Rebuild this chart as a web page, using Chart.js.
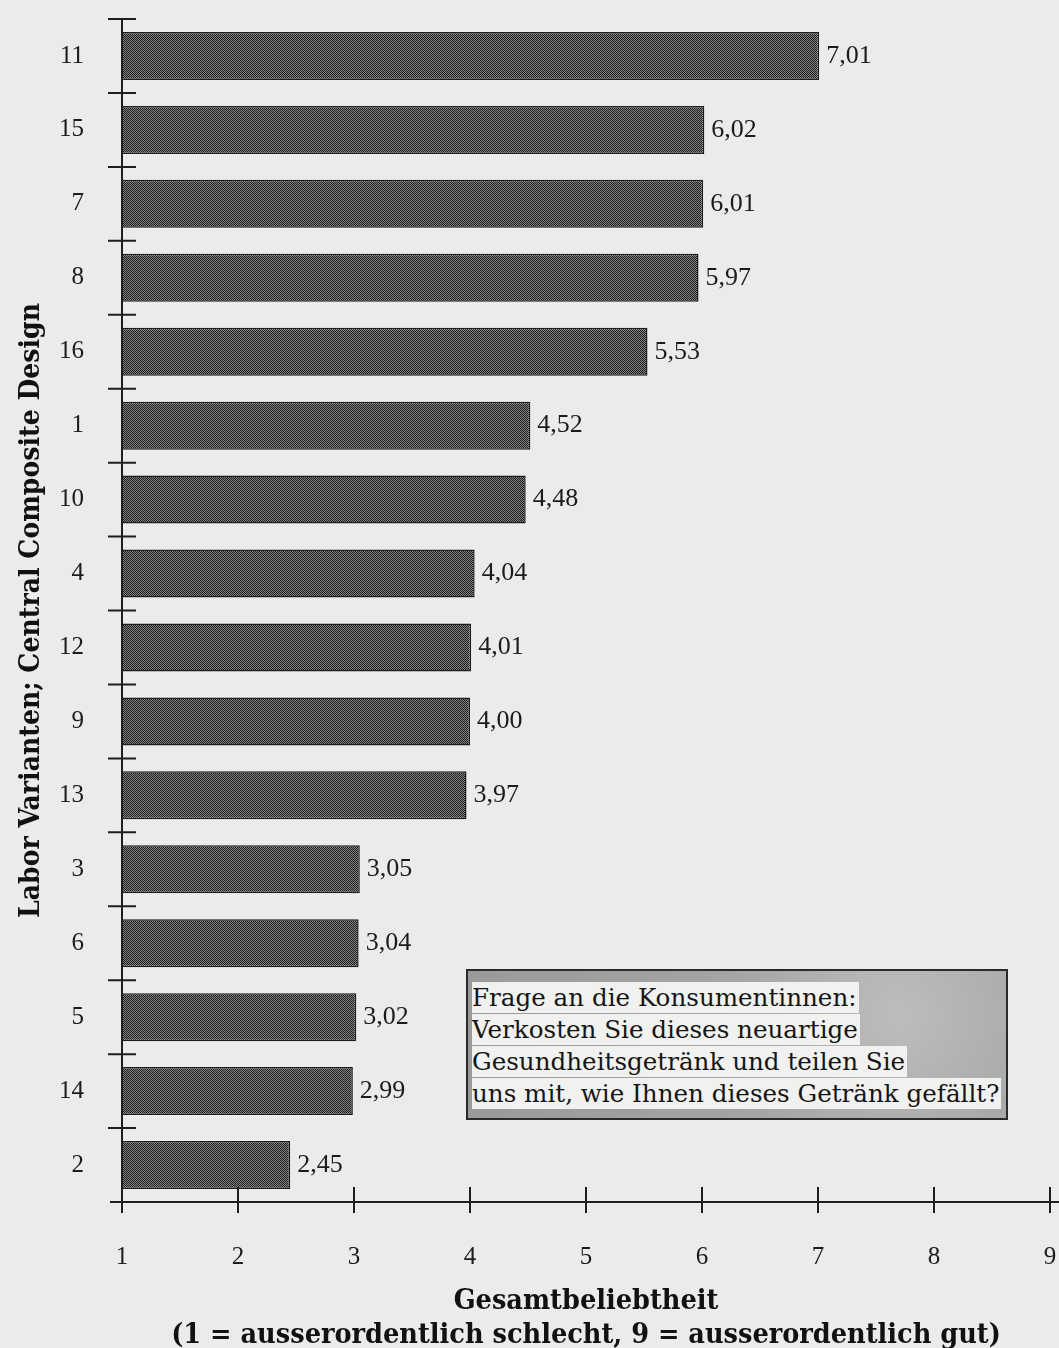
<!DOCTYPE html>
<html lang="de">
<head>
<meta charset="utf-8">
<title>Gesamtbeliebtheit der Labor-Varianten</title>
<script src="https://cdn.jsdelivr.net/npm/chart.js@4.4.1/dist/chart.umd.min.js"></script>
<style>
  html, body { margin: 0; padding: 0; background: #ecebe9; }
  #wrap { position: relative; width: 1059px; height: 1348px; overflow: hidden; }
  #chart { position: absolute; left: 0; top: 0; }
  /* Kasten mit der Frage an die Konsumentinnen */
  #frage {
    position: absolute; left: 466px; top: 969px; width: 542px; height: 151px;
    box-sizing: border-box; border: 2px solid #2a2a2a;
    background: #a6a6a6;
    background-image: radial-gradient(circle at 80% 30%, #bdbdbd 0, #a4a4a4 40%, #9a9a9a 100%);
    padding: 11px 0 0 4px;
  }
  #frage span {
    display: table; background: #f1f1ef; color: #151515;
    font: 24.6px "DejaVu Serif", "Liberation Serif", serif;
    line-height: 31px; margin-bottom: 1px; padding-right: 2px; white-space: nowrap;
  }
</style>
</head>
<body>
<div id="wrap">
  <canvas id="chart" width="1059" height="1348"></canvas>
  <div id="frage">
    <span>Frage an die Konsumentinnen:</span>
    <span>Verkosten Sie dieses neuartige</span>
    <span>Gesundheitsgetränk und teilen Sie</span>
    <span>uns mit, wie Ihnen dieses Getränk gefällt?</span>
  </div>
</div>
<script>
// ==================== Daten ====================

/** Labor-Varianten (Central Composite Design), sortiert nach Beliebtheit */
const varianten = ['11', '15', '7', '8', '16', '1', '10', '4', '12', '9', '13', '3', '6', '5', '14', '2'];

/** Mittlere Gesamtbeliebtheit je Variante */
const beliebtheit = [7.01, 6.02, 6.01, 5.97, 5.53, 4.52, 4.48, 4.04, 4.01, 4.00, 3.97, 3.05, 3.04, 3.02, 2.99, 2.45];

/** Skala 1..9 */
const skalaWerte = [1, 2, 3, 4, 5, 6, 7, 8, 9];

const xTitel = ['Gesamtbeliebtheit', '(1 = ausserordentlich schlecht, 9 = ausserordentlich gut)'];
const yTitel = 'Labor Varianten; Central Composite Design';

const SERIF = '"Liberation Serif", "DejaVu Serif", serif';
const TITEL_SERIF = '"DejaVu Serif Condensed", "Liberation Serif", serif';
const TINTE = '#1b1b1b';

// ==================== Hilfen ====================

/** Gerastertes Grau wie im Druck (Schachbrett aus dunklen und hellen Punkten) */
function rasterMuster() {
  const c = document.createElement('canvas');
  c.width = 2;
  c.height = 2;
  const g = c.getContext('2d');
  g.fillStyle = '#828282';
  g.fillRect(0, 0, 2, 2);
  g.fillStyle = '#1e1e1e';
  g.fillRect(0, 0, 1, 1);
  g.fillRect(1, 1, 1, 1);
  return g.createPattern(c, 'repeat');
}

/** Achsen mit durchgehenden Teilstrichen und die Werte neben den Balken */
const achsenPlugin = {
  id: 'achsen',
  afterDatasetsDraw(chart) {
    const { ctx, chartArea, scales } = chart;
    const x = scales.x;
    const y = scales.y;
    ctx.save();
    ctx.strokeStyle = '#1e1e1e';
    ctx.lineWidth = 2;
    ctx.beginPath();

    // y-Achse
    ctx.moveTo(chartArea.left, chartArea.top);
    ctx.lineTo(chartArea.left, chartArea.bottom);
    // x-Achse
    ctx.moveTo(chartArea.left - 12, chartArea.bottom);
    ctx.lineTo(chart.width, chartArea.bottom);

    // Teilstriche zwischen den Varianten
    const halb = (y.getPixelForValue(1) - y.getPixelForValue(0)) / 2;
    for (let i = 0; i < varianten.length; i++) {
      const yy = y.getPixelForValue(i) - halb;
      ctx.moveTo(chartArea.left - 14, yy);
      ctx.lineTo(chartArea.left + 14, yy);
    }

    // Teilstriche der Skala
    x.ticks.forEach(t => {
      const xx = x.getPixelForValue(t.value);
      ctx.moveTo(xx, chartArea.bottom - 15);
      ctx.lineTo(xx, chartArea.bottom + 11);
    });
    ctx.stroke();

    // Werte rechts neben den Balken
    ctx.fillStyle = TINTE;
    ctx.font = '26px ' + SERIF;
    ctx.textAlign = 'left';
    ctx.textBaseline = 'middle';
    chart.getDatasetMeta(0).data.forEach((bar, i) => {
      const text = beliebtheit[i].toFixed(2).replace('.', ',');
      ctx.fillText(text, bar.x + 7, bar.y);
    });
    ctx.restore();
  }
};

// ==================== Diagramm ====================

new Chart(document.getElementById('chart'), {
  type: 'bar',
  data: {
    labels: varianten,
    datasets: [{
      data: beliebtheit,
      backgroundColor: rasterMuster(),
      borderColor: '#1e1e1e',
      borderWidth: 1.5,
      borderSkipped: false,
      categoryPercentage: 1,
      barPercentage: 0.65
    }]
  },
  options: {
    indexAxis: 'y',
    responsive: false,
    animation: false,
    devicePixelRatio: 1,
    layout: {
      padding: { top: 13, right: 9, left: 0, bottom: 0 }
    },
    plugins: {
      legend: { display: false },
      tooltip: { enabled: false }
    },
    scales: {
      x: {
        min: skalaWerte[0],
        max: skalaWerte[skalaWerte.length - 1],
        afterFit: s => { s.height = 146; },
        afterBuildTicks: s => { s.ticks = skalaWerte.map(v => ({ value: v })); },
        border: { display: false },
        // Striche zeichnet das Plugin; tickLength dient nur als Abstand der Beschriftung
        grid: { display: false, drawTicks: true, tickLength: 38 },
        ticks: {
          color: TINTE,
          font: { family: SERIF, size: 25 },
          padding: 2,
          maxRotation: 0,
          autoSkip: false
        },
        title: {
          display: true,
          text: xTitel,
          color: '#111111',
          font: { family: TITEL_SERIF, size: 28.5, weight: 'bold', lineHeight: 1.18 },
          padding: { top: 0, bottom: -4 }
        }
      },
      y: {
        afterFit: s => { s.width = 122; },
        border: { display: false },
        grid: { display: false, drawTicks: true, tickLength: 34, offset: true },
        ticks: {
          color: TINTE,
          font: { family: SERIF, size: 25 },
          padding: 4,
          autoSkip: false
        },
        title: {
          display: true,
          text: yTitel,
          color: '#111111',
          font: { family: TITEL_SERIF, size: 28, weight: 'bold', lineHeight: 1.15 },
          padding: { top: 16, bottom: 0 }
        }
      }
    }
  },
  plugins: [achsenPlugin]
});
</script>
</body>
</html>
